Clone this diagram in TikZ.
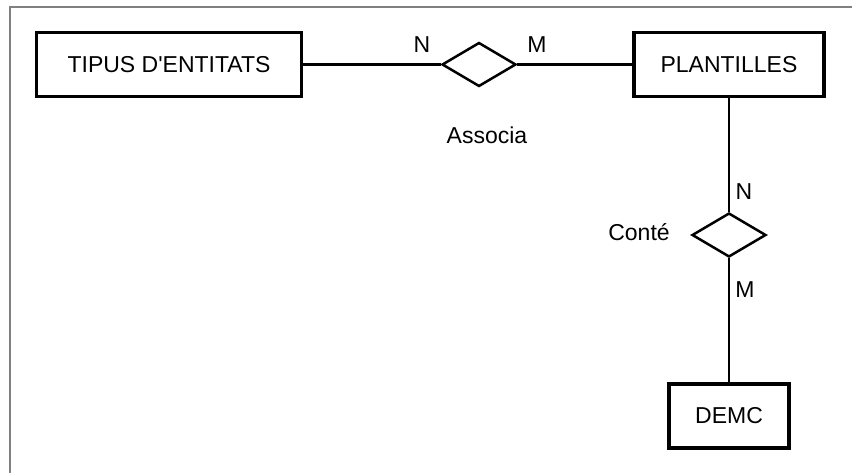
\documentclass[tikz,border=0pt]{standalone}
\usepackage{fontspec}
\setmainfont{Liberation Sans}
\usetikzlibrary{shapes.geometric}

\begin{document}
\begin{tikzpicture}[x=1pt, y=-1pt]
				\tikzstyle{Entity} = [rectangle, minimum height=64pt, text centered, draw=black, line width=3.5pt, inner sep=0pt, font=\fontsize{23}{28}\selectfont]
				\tikzstyle{Rel} = [diamond, minimum width=74pt, minimum height=44pt, inner sep=0pt, draw=black, line width=2.5pt]
				\tikzstyle{Label} = [inner sep=0pt, font=\fontsize{23}{28}\selectfont]
				\tikzstyle{link} = [line width=2.6pt]
				
				\useasboundingbox (0, 0) rectangle (852, 473);
				\draw [line width=1.5pt, gray] (10, 473) -- (10, 7) -- (852, 7);
				\node (tipus) [Entity, minimum width=265pt] at (169, 64.5) {TIPUS D\textquotesingle ENTITATS};
				\node (plant) [Entity, minimum width=190pt] at (729, 64.5) {PLANTILLES};
				\node (demc) [Entity, minimum width=120pt] at (729, 416) {DEMC};
				\node (assoc) [Rel] at (479, 64.5) {};
				\node (conte) [Rel] at (729, 235) {};
				\node (assocTxt) [Label] at (487, 135) {Associa};
				\node (conteTxt) [Label] at (639, 232) {Conté};
				\node (n1) [Label] at (422, 45) {N};
				\node (m1) [Label] at (537, 45) {M};
				\node (n2) [Label] at (744, 192) {N};
				\node (m2) [Label] at (745, 290) {M};
				
				\draw [link] (tipus.east) -- (assoc.west);
				\draw [link] (assoc.east) -- (plant.west);
				\draw [link] (plant.south) -- (conte.north);
				\draw [link] (conte.south) -- (demc.north);
			\end{tikzpicture}
\end{document}
